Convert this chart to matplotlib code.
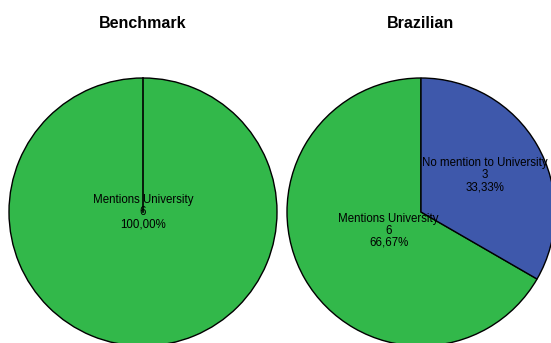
import numpy as np
import matplotlib.pyplot as plt

plt.rcParams['font.family'] = ['Liberation Sans', 'DejaVu Sans']

# Counts per group
groups = ['Benchmark', 'Brazilian']
categories = ['Mentions University', 'No mention to University']
counts = {'Benchmark': [6, 0], 'Brazilian': [6, 3]}
percent_labels = {'Benchmark': ['100,00%', ''], 'Brazilian': ['66,67%', '33,33%']}
colors = ['#32b84a', '#3e58ab']

W, H = 551, 343
fig = plt.figure(figsize=(W / 100, H / 100), dpi=100)

R = 134          # pie radius in pixels
pad = 1.05
centers = [(143, 212), (421, 212)]
label_dist = {'Mentions University': 0.28, 'No mention to University': 0.55}

for g, (cx, cy) in zip(groups, centers):
    side = 2 * R * pad
    ax = fig.add_axes([(cx - R * pad) / W, (H - cy - R * pad) / H, side / W, side / H])
    vals = [v for v in counts[g] if v > 0]
    cats = [c for c, v in zip(categories, counts[g]) if v > 0]
    cols = [col for col, v in zip(colors, counts[g]) if v > 0]
    pcts = [p for p, v in zip(percent_labels[g], counts[g]) if v > 0]
    wedges, _ = ax.pie(vals, colors=cols, startangle=90,
                       radius=1, wedgeprops=dict(edgecolor='black', linewidth=1))
    for w in wedges:
        w.set_clip_on(False)
    if len(vals) == 1:
        # full circle still shows the start boundary
        ax.plot([0, 0], [0, 1], color='black', lw=1.2)
        ax.text(0, 0.0, f'{cats[0]}\n{vals[0]}\n{pcts[0]}', ha='center', va='center',
                fontsize=8.3, linespacing=1.0)
    else:
        for w, c, v, p in zip(wedges, cats, vals, pcts):
            mid = np.deg2rad((w.theta1 + w.theta2) / 2)
            d = label_dist[c]
            ax.text(d * np.cos(mid), d * np.sin(mid), f'{c}\n{v}\n{p}', ha='center',
                    va='center', fontsize=8.3, linespacing=1.0)
    ax.set_xlim(-pad, pad)
    ax.set_ylim(-pad, pad)
    ax.set_aspect('equal')
    ax.axis('off')
    fig.text(cx / W, 1 - 23 / H, g, ha='center', va='center', fontsize=11.5, fontweight='bold')

fig.savefig('out.png', dpi=100)
